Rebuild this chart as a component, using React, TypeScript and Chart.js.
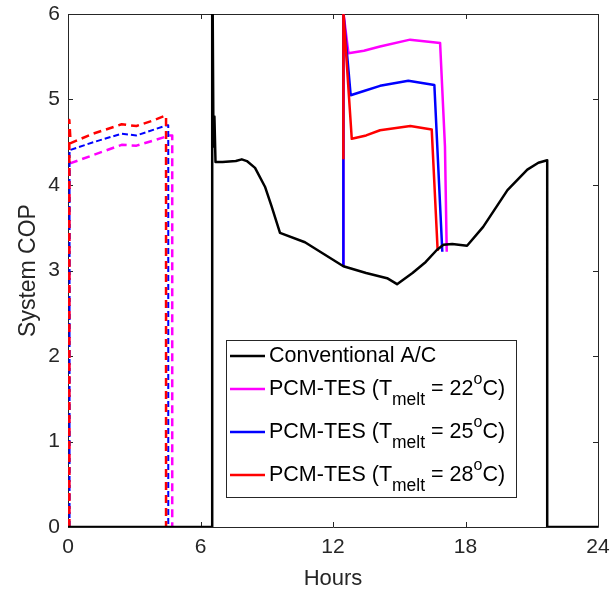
import React, { useEffect, useRef } from 'react';
import { Chart, registerables } from 'chart.js';

Chart.register(...registerables);

const FONT = '"Liberation Sans", Arial, Helvetica, sans-serif';

// Axis ticks
const xTicks = [0, 6, 12, 18, 24];
const yTicks = [0, 1, 2, 3, 4, 5, 6];

// Conventional A/C
const convHours = [0, 6.53, 6.53, 6.58, 6.6, 6.63, 6.68, 7.0, 7.6, 7.87, 8.1, 8.47, 8.92, 9.22, 9.6, 10.73, 11.6, 12.47, 13.5, 14.45, 14.9, 15.6, 16.2, 16.7, 17.0, 17.4, 18.07, 18.8, 19.9, 20.8, 21.3, 21.7, 21.7, 24];
const convCOP = [0, 0, 7.0, 4.8, 4.45, 4.8, 4.27, 4.27, 4.28, 4.3, 4.28, 4.2, 3.98, 3.75, 3.44, 3.33, 3.19, 3.05, 2.97, 2.91, 2.84, 2.97, 3.1, 3.24, 3.3, 3.31, 3.29, 3.51, 3.94, 4.18, 4.26, 4.29, 0, 0];

// PCM-TES, Tmelt = 22 C
const pcm22NightHours = [0.05, 0.06, 1.14, 2.43, 3.1, 4.62, 4.72, 4.72];
const pcm22NightCOP = [0, 4.25, 4.35, 4.47, 4.46, 4.58, 4.58, 0];
const pcm22DayHours = [12.47, 12.47, 12.7, 13.4, 14.13, 15.49, 16.85, 17.07, 17.15];
const pcm22DayCOP = [3.05, 6.02, 5.54, 5.57, 5.62, 5.7, 5.66, 4.45, 3.22];

// PCM-TES, Tmelt = 25 C
const pcm25NightHours = [0.07, 0.07, 0.1, 1.14, 2.43, 3.1, 4.5, 4.54, 4.54];
const pcm25NightCOP = [0, 4.41, 4.41, 4.5, 4.6, 4.58, 4.7, 4.7, 0];
const pcm25DayHours = [12.47, 12.47, 12.8, 13.4, 14.13, 15.41, 16.59, 16.95];
const pcm25DayCOP = [3.05, 6.02, 5.05, 5.1, 5.16, 5.22, 5.17, 3.22];

// PCM-TES, Tmelt = 28 C
const pcm28NightHours = [0.06, 0.06, 0.12, 1.14, 2.43, 3.1, 3.8, 4.39, 4.44, 4.44];
const pcm28NightCOP = [0, 4.76, 4.49, 4.6, 4.71, 4.69, 4.75, 4.81, 4.81, 0];
const pcm28DayHours = [12.47, 12.47, 12.85, 13.5, 14.13, 15.5, 16.47, 16.74];
const pcm28DayCOP = [4.3, 6.02, 4.54, 4.58, 4.64, 4.69, 4.65, 3.23];

const zip = (xs: number[], ys: number[]) => xs.map((x, i) => ({ x, y: ys[i] }));

const BLACK = '#000000';
const MAGENTA = '#FF00FF';
const BLUE = '#0000FF';
const RED = '#FF0000';
const AXIS = '#262626';

type Seg = { t: string; k?: 'sub' | 'sup' };
const legendRows: { color: string; segs: Seg[] }[] = [
  { color: BLACK, segs: [{ t: 'Conventional A/C' }] },
  { color: MAGENTA, segs: [{ t: 'PCM-TES (T' }, { t: 'melt', k: 'sub' }, { t: ' = 22' }, { t: 'o', k: 'sup' }, { t: 'C)' }] },
  { color: BLUE, segs: [{ t: 'PCM-TES (T' }, { t: 'melt', k: 'sub' }, { t: ' = 25' }, { t: 'o', k: 'sup' }, { t: 'C)' }] },
  { color: RED, segs: [{ t: 'PCM-TES (T' }, { t: 'melt', k: 'sub' }, { t: ' = 28' }, { t: 'o', k: 'sup' }, { t: 'C)' }] },
];

const framePlugin = {
  id: 'matlabFrame',
  beforeDatasetsDraw(chart: any) {
    const { ctx, chartArea } = chart;
    const { left, right, top, bottom } = chartArea;
    const xs = chart.scales.x;
    const ys = chart.scales.y;
    ctx.save();
    ctx.strokeStyle = AXIS;
    ctx.lineWidth = 1;
    ctx.beginPath();
    ctx.rect(Math.round(left) + 0.5, Math.round(top) + 0.5, Math.round(right - left), Math.round(bottom - top));
    ctx.stroke();
    const tl = 5;
    ctx.beginPath();
    xTicks.forEach((v) => {
      const px = Math.round(xs.getPixelForValue(v)) + 0.5;
      ctx.moveTo(px, bottom);
      ctx.lineTo(px, bottom - tl);
      ctx.moveTo(px, top);
      ctx.lineTo(px, top + tl);
    });
    yTicks.forEach((v) => {
      const py = Math.round(ys.getPixelForValue(v)) + 0.5;
      ctx.moveTo(left, py);
      ctx.lineTo(left + tl, py);
      ctx.moveTo(right, py);
      ctx.lineTo(right - tl, py);
    });
    ctx.stroke();
    ctx.restore();
  },
};

const legendPlugin = {
  id: 'richLegend',
  afterDraw(chart: any) {
    const { ctx } = chart;
    const bx = 226.5, by = 340.5, bw = 290, bh = 157;
    ctx.save();
    ctx.fillStyle = '#ffffff';
    ctx.fillRect(bx, by, bw, bh);
    ctx.strokeStyle = AXIS;
    ctx.lineWidth = 1;
    ctx.strokeRect(bx, by, bw, bh);
    const rowY = [356, 389, 432, 475];
    legendRows.forEach((row, i) => {
      const y = rowY[i];
      ctx.strokeStyle = row.color;
      ctx.lineWidth = 2.5;
      ctx.setLineDash([]);
      ctx.beginPath();
      ctx.moveTo(230, y);
      ctx.lineTo(265, y);
      ctx.stroke();
      let x = 269;
      ctx.fillStyle = '#000000';
      ctx.textBaseline = 'middle';
      ctx.textAlign = 'left';
      row.segs.forEach((s) => {
        let size = 21.5;
        let dy = 0;
        if (s.k === 'sub') { size = 17.5; dy = 11; }
        if (s.k === 'sup') { size = 16; dy = -9; }
        ctx.font = `${size}px ${FONT}`;
        ctx.fillText(s.t, x, y + dy);
        x += ctx.measureText(s.t).width;
      });
    });
    ctx.restore();
  },
};

export default function App() {
  const ref = useRef<HTMLCanvasElement>(null);
  useEffect(() => {
    const line = (data: any[], color: string, order: number, dash: number[] = [], width = 2.5) => ({
      data,
      borderColor: color,
      backgroundColor: color,
      borderWidth: width,
      borderDash: dash,
      borderCapStyle: 'butt',
      borderJoinStyle: 'round',
      pointRadius: 0,
      pointHoverRadius: 0,
      showLine: true,
      fill: false,
      tension: 0,
      order,
    });
    const chart = new Chart(ref.current as HTMLCanvasElement, {
      type: 'scatter',
      data: {
        datasets: [
          line(zip(convHours, convCOP), BLACK, 0),
          line(zip(pcm28NightHours, pcm28NightCOP), RED, 1, [8, 5]),
          line(zip(pcm28DayHours, pcm28DayCOP), RED, 1),
          line(zip(pcm25NightHours, pcm25NightCOP), BLUE, 2, [6, 3], 2),
          line(zip(pcm25DayHours, pcm25DayCOP), BLUE, 2),
          line(zip(pcm22NightHours, pcm22NightCOP), MAGENTA, 3, [8, 5]),
          line(zip(pcm22DayHours, pcm22DayCOP), MAGENTA, 3),
        ] as any,
      },
      options: {
        animation: false,
        responsive: true,
        maintainAspectRatio: false,
        layout: { padding: { left: 0, top: 14, right: 12, bottom: 0 } },
        plugins: { legend: { display: false }, tooltip: { enabled: false } },
        events: [],
        scales: {
          x: {
            type: 'linear',
            min: 0,
            max: 24,
            afterBuildTicks: (s: any) => { s.ticks = xTicks.map((v) => ({ value: v })); },
            afterFit: (s: any) => { s.height = 68; s.paddingLeft = 0; s.paddingRight = 0; },
            grid: { display: false, drawTicks: false },
            border: { display: false },
            ticks: { padding: 8, color: AXIS, maxRotation: 0, font: { size: 21, family: FONT } },
            title: { display: true, text: 'Hours', color: AXIS, font: { size: 22, family: FONT }, padding: { top: 0, bottom: 3 } },
          },
          y: {
            type: 'linear',
            min: 0,
            max: 6,
            afterBuildTicks: (s: any) => { s.ticks = yTicks.map((v) => ({ value: v })); },
            afterFit: (s: any) => { s.width = 68; s.paddingTop = 0; s.paddingBottom = 0; },
            grid: { display: false, drawTicks: false },
            border: { display: false },
            ticks: { padding: 8, color: AXIS, font: { size: 21, family: FONT } },
            title: { display: true, text: 'System COP', color: AXIS, font: { size: 23, family: FONT }, padding: { top: 15, bottom: 0 } },
          },
        },
      } as any,
      plugins: [framePlugin, legendPlugin],
    });
    return () => chart.destroy();
  }, []);
  return (
    <div style={{ position: 'fixed', left: 0, top: 0, width: 610, height: 595, background: '#ffffff' }}>
      <canvas ref={ref} />
    </div>
  );
}
